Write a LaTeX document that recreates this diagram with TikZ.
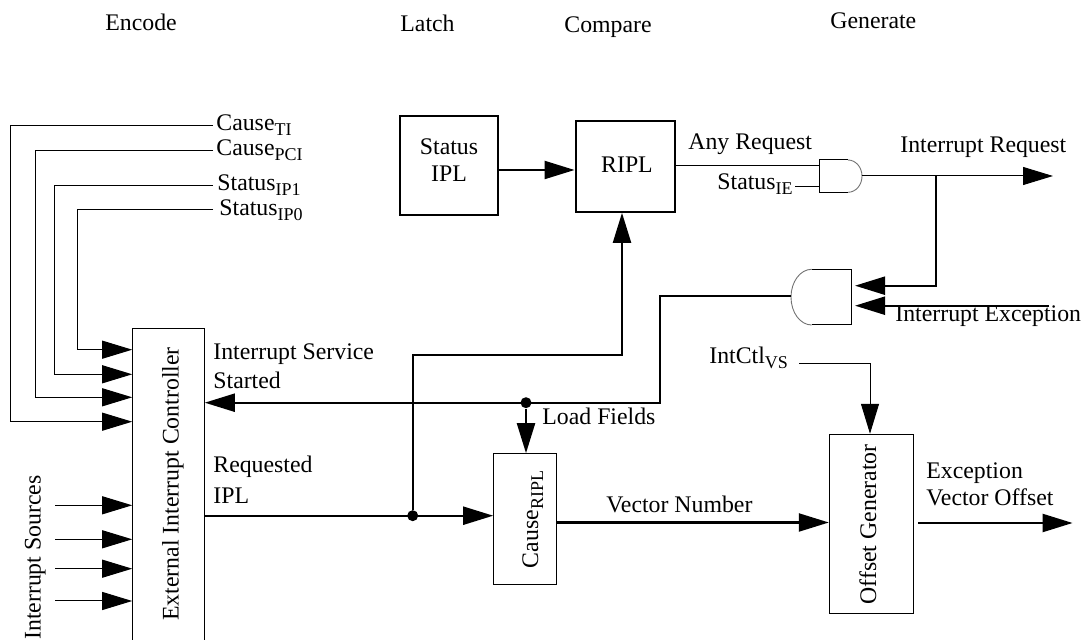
\documentclass[tikz,border=0pt]{standalone}
\usepackage{fontspec}
\setmainfont{Liberation Serif}
\usetikzlibrary{arrows.meta}
\newcommand\sbx[1]{\raisebox{-2.5pt}{\fontsize{9}{9}\selectfont #1}}
\begin{document}
\begin{tikzpicture}[x=0.5pt,y=-0.5pt,
  txt/.style={inner sep=0pt, font=\fontsize{11.9}{14}\selectfont},
  thk/.style={line width=1.1pt},
  thn/.style={line width=0.5pt},
  arr/.style={-{Triangle[length=15pt,width=9pt]}},
  boxthin/.style={draw, line width=0.5pt, inner sep=0pt},
  boxthick/.style={draw, line width=1.15pt, inner sep=0pt},
  dot/.style={circle, fill, inner sep=0pt, minimum size=5.5pt},
  gatecurve/.style={draw=black!55, line width=0.45pt}]
\useasboundingbox (0,0) rectangle (1083,640);

% ---- stage titles
\node[txt,anchor=base west] (tEnc) at (105,31) {Encode};
\node[txt,anchor=base west] (tLat) at (400,32) {Latch};
\node[txt,anchor=base west] (tCmp) at (564,33) {Compare};
\node[txt,anchor=base west] (tGen) at (830,28.5) {Generate};

% ---- boxes
\node[boxthick, minimum width=49.15pt, minimum height=49.65pt] (statusipl) at (449.15,165.35) {};
\node[boxthick, minimum width=49.65pt, minimum height=45.35pt] (ripl) at (625.35,166.35) {};
\node[boxthin, minimum width=35.8pt, minimum height=160.65pt] (eic) at (168.5,489.35) {};
\node[boxthin, minimum width=31.3pt, minimum height=65.65pt] (cause) at (525,519.35) {};
\node[boxthin, minimum width=42.2pt, minimum height=89.85pt] (offgen) at (871.5,524.15) {};

% ---- box texts
\node[txt,anchor=base] (tStatus) at (449,155) {Status};
\node[txt,anchor=base] (tIPL) at (449,182) {IPL};
\node[txt,anchor=base] (tRIPL) at (627,173) {RIPL};
\node[txt,anchor=base,rotate=90] (tEIC) at (178.5,484) {External Interrupt Controller};
\node[txt,anchor=base,rotate=90] (tCause) at (538,519.5) {Cause\sbx{RIPL}};
\node[txt,anchor=base,rotate=90] (tOff) at (876,524.5) {Offset Generator};
\node[txt,anchor=base,rotate=90] (tSrc) at (40.7,557.5) {Interrupt Sources};

% ---- gates
\draw[thn] (848,160) -- (819.3,160) -- (819.3,192.3) -- (848,192.3);
\draw[gatecurve] (848,160) .. controls (855.73,160) and (862,167.23) .. (862,176.15)
   .. controls (862,185.07) and (855.73,192.3) .. (848,192.3);
\draw[thn] (811.7,269.3) -- (851.7,269.3) -- (851.7,325) -- (811.7,325);
\draw[gatecurve] (811.7,269.3) .. controls (800.27,269.3) and (791,281.77) .. (791,297.15)
   .. controls (791,312.53) and (800.27,325) .. (811.7,325);
\coordinate (g1a) at (819.3,166);
\coordinate (g1b) at (819.3,186.7);
\coordinate (g1out) at (862,176);
\coordinate (g2a) at (855,285.7);
\coordinate (g2b) at (855,305.7);
\coordinate (g2out) at (791,295.7);

% ---- labels
\node[txt,anchor=base west] (lTI) at (216,131) {Cause\sbx{TI}};
\node[txt,anchor=base west] (lPCI) at (216,156) {Cause\sbx{PCI}};
\node[txt,anchor=base west] (lIP1) at (217,191) {Status\sbx{IP1}};
\node[txt,anchor=base west] (lIP0) at (219,215.5) {Status\sbx{IP0}};
\node[txt,anchor=base west] (lAny) at (688,150) {Any Request};
\node[txt,anchor=base west] (lIE) at (717,190) {Status\sbx{IE}};
\node[txt,anchor=base west] (lIR) at (900,153) {Interrupt Request};
\node[txt,anchor=base west] (lIX) at (895,321.7) {Interrupt Exception};
\node[txt,anchor=base west] (lISS1) at (213,360) {Interrupt Service};
\node[txt,anchor=base west] (lISS2) at (213,389) {Started};
\node[txt,anchor=base west] (lReq1) at (213,473) {Requested};
\node[txt,anchor=base west] (lReq2) at (213,504) {IPL};
\node[txt,anchor=base west] (lLoad) at (542,425) {Load Fields};
\node[txt,anchor=base west] (lIC) at (709,364) {IntCtl\sbx{VS}};
\node[txt,anchor=base west] (lVN) at (606,513) {Vector Number};
\node[txt,anchor=base west] (lEx1) at (926,479) {Exception};
\node[txt,anchor=base west] (lEx2) at (926,506) {Vector Offset};

% ---- free ends
\coordinate (cTI) at (213,126);
\coordinate (cPCI) at (213,150.7);
\coordinate (cIP1) at (213,186);
\coordinate (cIP0) at (213,210);
\coordinate (cIE) at (795,186.7);
\coordinate (cIR) at (1053,176);
\coordinate (jIR) at (936,176);
\coordinate (cIX) at (1049,305.7);
\coordinate (cIC) at (799,364);
\coordinate (cEO) at (1072.6,523);
\coordinate (s1) at (55.4,505.3);
\coordinate (s2) at (55.4,539.3);
\coordinate (s3) at (55.4,568.7);
\coordinate (s4) at (55.4,601);

% ---- junction dots
\node[dot] (jReq) at (412.7,515.7) {};
\node[dot] (jLoad) at (526,402.7) {};

% ---- connectors
\draw[thn,arr] (cTI) -- (10.7,126) -- (10.7,421.7) -- (eic.west |- 0,421.7);
\draw[thn,arr] (cPCI) -- (35,150.7) -- (35,397.3) -- (eic.west |- 0,397.3);
\draw[thn,arr] (cIP1) -- (54.3,186) -- (54.3,374.3) -- (eic.west |- 0,374.3);
\draw[thn,arr] (cIP0) -- (77.3,210) -- (77.3,349.7) -- (eic.west |- 0,349.7);
\foreach \s in {s1,s2,s3,s4} \draw[thn,arr] (\s) -- (eic.west |- \s);

\draw[thk,arr] (statusipl.east |- 0,170) -- (ripl.west |- 0,170);
\draw[thn] (ripl.east |- g1a) -- (g1a);
\draw[thn] (cIE) -- (g1b);
\draw[thn,arr] (g1out) -- (cIR);
\draw[thk,arr] (jIR) |- (g2a);
\draw[thk,arr] (cIX) -- (g2b);
\draw[thk,arr] (g2out) -| (660,402.7) -- (eic.east |- jLoad);
\draw[thk,arr] (jLoad) -- (cause.north -| jLoad);
\draw[thk,arr] (eic.east |- jReq) -- (cause.west |- jReq);
\draw[thk,arr] (jReq) |- (622,355) -- (ripl.south -| 622,0);
\draw[thk,arr] (cause.east |- 0,522.5) -- (offgen.west |- 0,522.5);
\draw[thn,arr] (cIC) -| (offgen.north -| 870,0);
\draw[thk,arr,shorten <=2pt] (offgen.east |- cEO) -- (cEO);
\end{tikzpicture}
\end{document}
